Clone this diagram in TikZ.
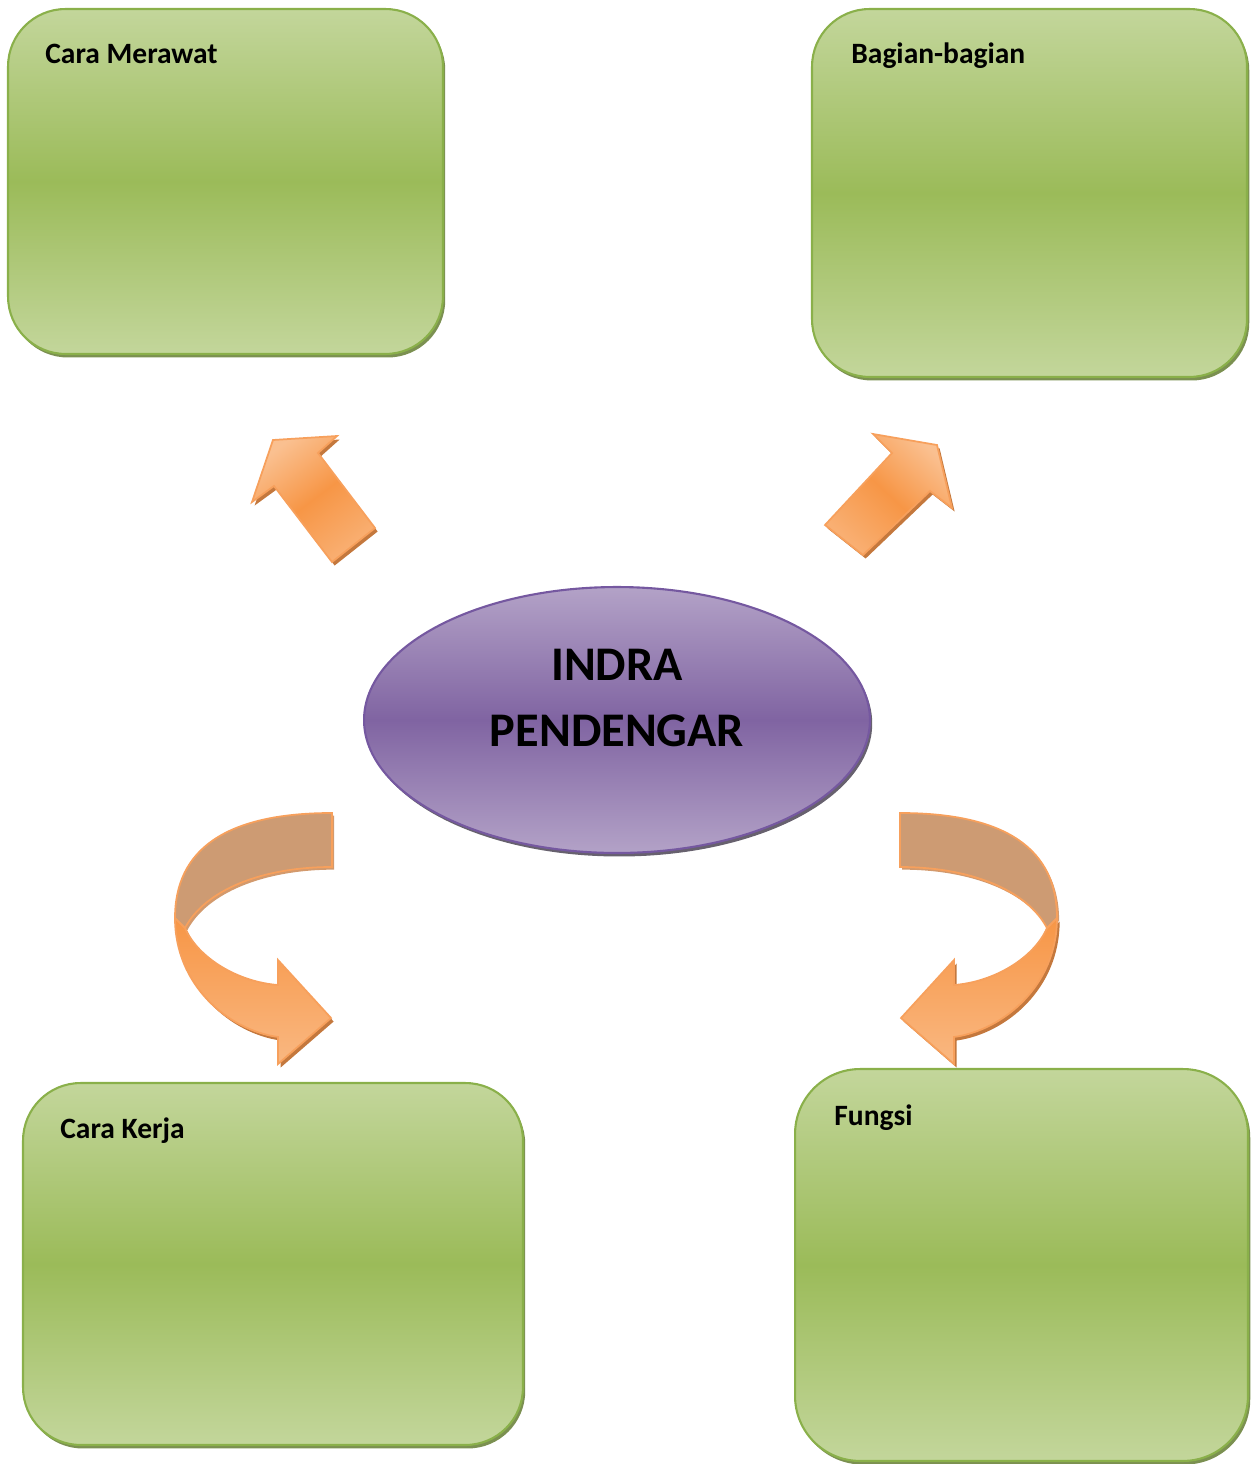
\documentclass[tikz,border=0pt]{standalone}
\usepackage{fontspec}
\setmainfont{Carlito}
\usetikzlibrary{shapes.geometric,shadows}
\definecolor{gLight}{HTML}{C3D69B}
\definecolor{gMid}{HTML}{9BBB59}
\definecolor{gBorder}{HTML}{8AB04A}
\definecolor{gShadow}{HTML}{5A7425}
\definecolor{pLight}{HTML}{B3A2C7}
\definecolor{pMid}{HTML}{8064A2}
\definecolor{pBorder}{HTML}{7558A0}
\definecolor{oMid}{HTML}{F79646}
\definecolor{oLight}{HTML}{FAC090}
\definecolor{oBorder}{HTML}{F7A05C}
\definecolor{oShadow}{HTML}{B5560C}
\definecolor{oBack}{HTML}{CD9B73}
\tikzset{
  greenbox/.style={draw=gBorder, line width=1.2pt, rounded corners=1.15cm, inner sep=0pt,
    top color=gLight, bottom color=gLight, middle color=gMid,
    drop shadow={shadow xshift=1.3pt, shadow yshift=-2pt, fill=gShadow, opacity=0.8}},
  lbl/.style={font=\bfseries\fontsize{16.8}{20}\selectfont, inner sep=0pt, text=black},
  purpleell/.style={ellipse, draw=pBorder, line width=1.2pt, inner sep=0pt,
    minimum width=10.12cm, minimum height=5.32cm,
    top color=pLight, bottom color=pLight, middle color=pMid,
    drop shadow={shadow xshift=1.3pt, shadow yshift=-2pt, fill=black!70!pMid, opacity=0.7}},
  titletext/.style={font=\bfseries\fontsize{27.5}{38}\selectfont, align=center, inner sep=0pt},
  orangearrow/.style={draw=oBorder, line width=1pt, line join=miter,
    top color=oLight, bottom color=oLight!60!oMid, middle color=oMid,
    drop shadow={shadow xshift=1.5pt, shadow yshift=-2pt, fill=oShadow, opacity=0.8}},
  backpart/.style={draw=oBorder, line width=1pt, fill=oBack,
    drop shadow={shadow xshift=1.2pt, shadow yshift=-1.5pt, fill=oShadow, opacity=0.6}},
  frontpart/.style={draw=oBorder, line width=1pt, line join=miter,
    top color=oMid, bottom color=oLight!80!oMid,
    drop shadow={shadow xshift=1.5pt, shadow yshift=-2pt, fill=oShadow, opacity=0.8}},
}
\begin{document}
\begin{tikzpicture}[x=0.02cm,y=-0.02cm]
\useasboundingbox (0,0) rectangle (1259,1464);

% boxes
\node[greenbox, minimum width=8.70cm, minimum height=6.90cm] (b1) at (225.5,181.5) {};
\node[greenbox, minimum width=8.70cm, minimum height=7.36cm] (b2) at (1029.5,193) {};
\node[greenbox, minimum width=10.0cm, minimum height=7.24cm] (b3) at (273,1264) {};
\node[greenbox, minimum width=9.06cm, minimum height=7.84cm, rounded corners=1.3cm] (b4) at (1021.5,1265) {};

\node[lbl, anchor=base west] (t1) at (45,63) {Cara Merawat};
\node[lbl, anchor=base west] (t2) at (851,63) {Bagian-bagian};
\node[lbl, anchor=base west] (t3) at (60,1138) {Cara Kerja};
\node[lbl, anchor=base west] (t4) at (834,1125) {Fungsi};

% centre ellipse
\node[purpleell] (c) at (617,720) {};
\node[titletext] (ct) at (617,698) {INDRA\\PENDENGAR};

% straight arrows
\path[orangearrow, shading angle=37] (273,440) -- (337,436) -- (318,453) -- (375,528)
   -- (332,562) -- (274,486) -- (252,502) -- cycle;
\path[orangearrow, shading angle=-43] (937,445) -- (952,508) -- (930,491) -- (863,555)
   -- (825,525) -- (892,453) -- (873,434) -- cycle;

% curved arrows (left, and its mirror image on the right)
\foreach \s/\sx in {0/1, 1232/-1} {
\begin{scope}[shift={(\s,0)}, xscale=\sx]
\path[backpart] (332,813) .. controls (225,813) and (175,850) .. (175,918)
   -- (185,928) .. controls (205,890) and (262,867) .. (332,867) -- cycle;
\path[frontpart] (175,918) .. controls (175,985) and (228,1030) .. (278,1037)
   -- (278,1064) -- (331,1018) -- (278,960) -- (278,985)
   .. controls (238,982) and (198,958) .. (185,928) -- cycle;
\end{scope}
}
\end{tikzpicture}
\end{document}
